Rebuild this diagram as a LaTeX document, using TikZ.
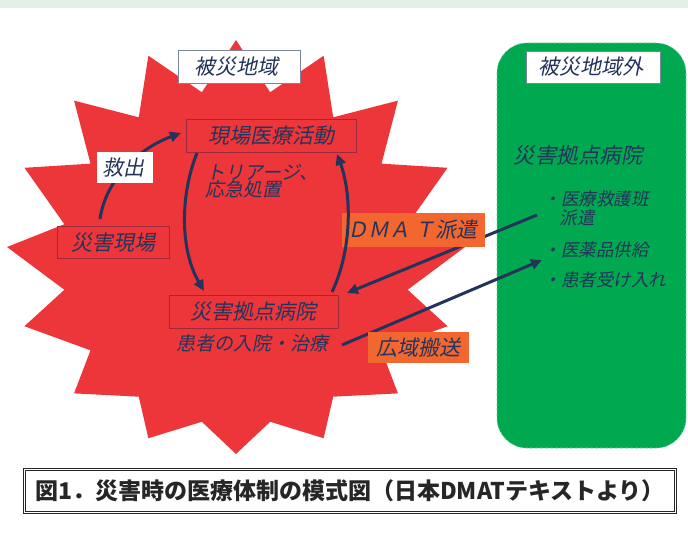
\documentclass[tikz,border=0pt]{standalone}
\usepackage{fontspec}
\usetikzlibrary{arrows.meta}
\newfontfamily\jp{Noto Sans CJK JP}
\newfontfamily\jpcap{Noto Sans CJK JP}
\definecolor{starred}{RGB}{236,54,58}
\definecolor{navy}{RGB}{35,52,92}
\definecolor{boxred}{RGB}{160,40,60}
\definecolor{orng}{RGB}{242,102,48}
\definecolor{grn}{RGB}{0,168,80}
\definecolor{band}{RGB}{226,240,232}
\tikzset{
  lbl/.style={font=\jp\fontsize{21}{22}\selectfont, text=navy, inner sep=0pt, anchor=center},
  small/.style={font=\jp\fontsize{17.5}{18}\selectfont, text=navy, inner sep=0pt},
  mid/.style={font=\jp\fontsize{19}{19}\selectfont, text=navy, inner sep=0pt},
  redbox/.style={draw=boxred, line width=0.7pt, inner sep=0pt},
  whitebox/.style={fill=white, draw=navy!60, line width=0.7pt, inner sep=0pt},
  orangebox/.style={fill=orng, inner sep=0pt},
  arr/.style={draw=navy, line width=3pt, -{Triangle[length=11pt,width=10pt]}},
}
% slanted (italic-looking) text node: [options]{position}{text}
\newcommand\itext[3][]{\begin{scope}[shift={#2}]\node[xslant=0.2, transform shape, #1] at (0,0) {#3};\end{scope}}
\begin{document}
\begin{tikzpicture}[x=1pt,y=-1pt]
\useasboundingbox (0,0) rectangle (688,535);
\fill[white] (0,0) rectangle (688,535);
\fill[band] (0,0) rectangle (688,8);
% star
\fill[starred] (236,40)
  \foreach \k in {0,...,15} {
    -- ({236+175*sin(\k*22.5+11.25)},{257-168*cos(\k*22.5+11.25)})
    -- ({236+229*sin(\k*22.5+22.5)},{247-207*cos(\k*22.5+22.5)})
  } -- cycle;
% green area
\draw[fill=grn, draw=grn!55!white, densely dashed, line width=0.6pt, rounded corners=30pt]
  (497,43) rectangle (686,448);
% coordinates
\coordinate (hanken) at (537,215);
\coordinate (dmattip) at (347,293);
\coordinate (kstart) at (342,345);
\coordinate (iyaku) at (542,260);
% long arrows behind boxes
\draw[arr] (hanken) -- (dmattip);
\draw[arr] (kstart) -- (iyaku);
% rescue arrow (behind its label box)
\coordinate (a1s) at (100,219);
\coordinate (a1e) at (181,133);
\draw[arr] (a1s) .. controls (106,178) and (140,148) .. (a1e);
% boxes
\node[whitebox, minimum width=122pt, minimum height=33pt] (hisai) at (239,66.5) {};
\node[redbox, minimum width=170pt, minimum height=33pt] (katsudo) at (271,135.5) {};
\node[fill=white, inner sep=0pt, minimum width=56pt, minimum height=31pt] (kyushutsu) at (125,167.5) {};
\node[redbox, minimum width=112pt, minimum height=32pt] (genba) at (113,242) {};
\node[redbox, minimum width=169pt, minimum height=33pt] (kyoten) at (253.5,311.5) {};
\node[orangebox, minimum width=143pt, minimum height=34pt] (dmat) at (413.5,230) {};
\node[orangebox, minimum width=101pt, minimum height=31pt] (koiki) at (418.5,347.5) {};
\node[whitebox, minimum width=134pt, minimum height=32pt] (hisaigai) at (593,67) {};
% box texts
\itext[lbl, name=thisai]{(238,67)}{被災地域}
\itext[lbl, name=tkatsudo]{(273,136)}{現場医療活動}
\itext[lbl, name=tkyushutsu]{(125,168)}{救出}
\itext[lbl, name=tgenba]{(115,243)}{災害現場}
\itext[lbl, name=tkyoten]{(255,312)}{災害拠点病院}
\itext[lbl, name=tdmat]{(414,230)}{ＤＭＡ Ｔ派遣}
\itext[lbl, name=tkoiki]{(420,348)}{広域搬送}
\itext[lbl, name=thisaigai]{(593,67)}{被災地域外}
% free texts
\itext[mid, anchor=west, name=triage1]{(208,172)}{トリアージ、}
\itext[mid, anchor=west, name=triage2]{(207,189)}{応急処置}
\itext[mid, name=kanja]{(254,343)}{患者の入院・治療}
\itext[lbl, font=\jp\fontsize{21.5}{22}\selectfont, name=gkyoten]{(580,155)}{災害拠点病院}
\itext[small, anchor=west, name=b1]{(545,199)}{・医療救護班}
\itext[small, anchor=west, name=b1b]{(561,218)}{派遣}
\itext[small, anchor=west, name=b2]{(545,250)}{・医薬品供給}
\itext[small, anchor=west, name=b3]{(545,280)}{・患者受け入れ}
% curved arrows
\coordinate (l1s) at (197,153);
\coordinate (l1e) at (204,291);
\draw[arr] (l1s) .. controls (180,195) and (180,250) .. (l1e);
\coordinate (r1s) at (332,292);
\coordinate (r1e) at (337,154);
\draw[arr] (r1s) .. controls (352,250) and (352,195) .. (r1e);
% caption
\node[draw=black!85, line width=0.9pt, double=white, double distance=0.9pt,
      minimum width=651pt, minimum height=43pt, inner sep=0pt,
      font=\jpcap\bfseries\fontsize{23}{24}\selectfont, text=black!85] (caption) at (350,491)
  {図1．災害時の医療体制の模式図（日本DMATテキストより）};
\end{tikzpicture}
\end{document}
